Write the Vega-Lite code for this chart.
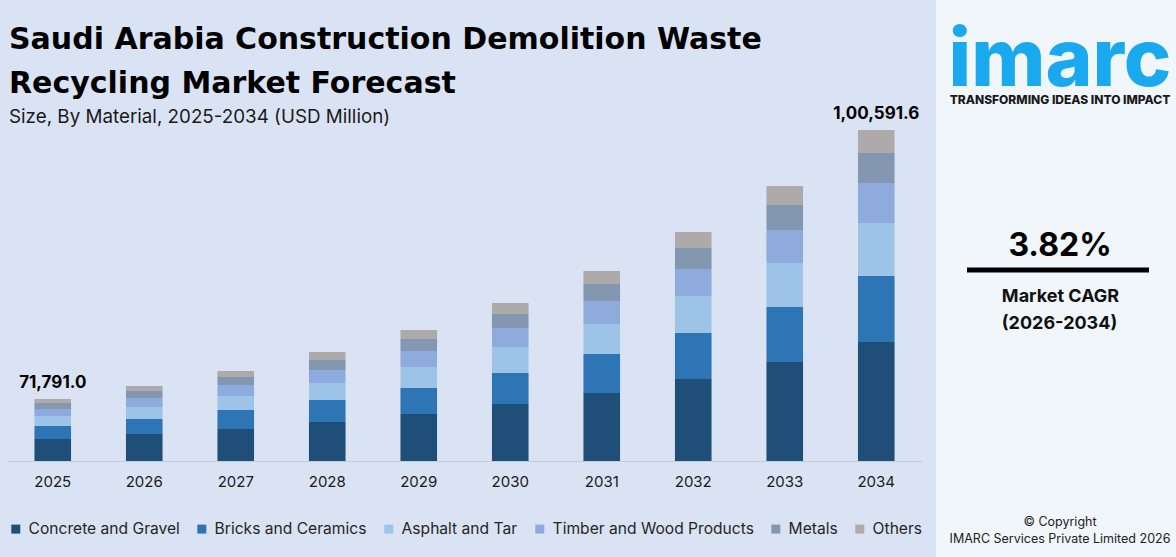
{
  "$schema": "https://vega.github.io/schema/vega-lite/v6.json",
  "background": "#dae3f3",
  "padding": {"left": 7, "top": 0, "right": 0, "bottom": 0},
  "spacing": 14,
  "config": {"view": {"stroke": null}, "font": "Inter"},
  "datasets": {
    "segments": [
      {"year": "2025", "material": "Concrete and Gravel", "value": 22},
      {"year": "2025", "material": "Bricks and Ceramics", "value": 13},
      {"year": "2025", "material": "Asphalt and Tar", "value": 10},
      {"year": "2025", "material": "Timber and Wood Products", "value": 7},
      {"year": "2025", "material": "Metals", "value": 6},
      {"year": "2025", "material": "Others", "value": 4},
      {"year": "2026", "material": "Concrete and Gravel", "value": 27},
      {"year": "2026", "material": "Bricks and Ceramics", "value": 15},
      {"year": "2026", "material": "Asphalt and Tar", "value": 12},
      {"year": "2026", "material": "Timber and Wood Products", "value": 9},
      {"year": "2026", "material": "Metals", "value": 7},
      {"year": "2026", "material": "Others", "value": 5},
      {"year": "2027", "material": "Concrete and Gravel", "value": 32},
      {"year": "2027", "material": "Bricks and Ceramics", "value": 19},
      {"year": "2027", "material": "Asphalt and Tar", "value": 14},
      {"year": "2027", "material": "Timber and Wood Products", "value": 11},
      {"year": "2027", "material": "Metals", "value": 8},
      {"year": "2027", "material": "Others", "value": 6},
      {"year": "2028", "material": "Concrete and Gravel", "value": 39},
      {"year": "2028", "material": "Bricks and Ceramics", "value": 22},
      {"year": "2028", "material": "Asphalt and Tar", "value": 17},
      {"year": "2028", "material": "Timber and Wood Products", "value": 13},
      {"year": "2028", "material": "Metals", "value": 10},
      {"year": "2028", "material": "Others", "value": 8},
      {"year": "2029", "material": "Concrete and Gravel", "value": 47},
      {"year": "2029", "material": "Bricks and Ceramics", "value": 26},
      {"year": "2029", "material": "Asphalt and Tar", "value": 21},
      {"year": "2029", "material": "Timber and Wood Products", "value": 16},
      {"year": "2029", "material": "Metals", "value": 12},
      {"year": "2029", "material": "Others", "value": 9},
      {"year": "2030", "material": "Concrete and Gravel", "value": 57},
      {"year": "2030", "material": "Bricks and Ceramics", "value": 31},
      {"year": "2030", "material": "Asphalt and Tar", "value": 26},
      {"year": "2030", "material": "Timber and Wood Products", "value": 19},
      {"year": "2030", "material": "Metals", "value": 14},
      {"year": "2030", "material": "Others", "value": 11},
      {"year": "2031", "material": "Concrete and Gravel", "value": 68},
      {"year": "2031", "material": "Bricks and Ceramics", "value": 39},
      {"year": "2031", "material": "Asphalt and Tar", "value": 30},
      {"year": "2031", "material": "Timber and Wood Products", "value": 23},
      {"year": "2031", "material": "Metals", "value": 17},
      {"year": "2031", "material": "Others", "value": 13},
      {"year": "2032", "material": "Concrete and Gravel", "value": 82},
      {"year": "2032", "material": "Bricks and Ceramics", "value": 46},
      {"year": "2032", "material": "Asphalt and Tar", "value": 37},
      {"year": "2032", "material": "Timber and Wood Products", "value": 27},
      {"year": "2032", "material": "Metals", "value": 21},
      {"year": "2032", "material": "Others", "value": 16},
      {"year": "2033", "material": "Concrete and Gravel", "value": 99},
      {"year": "2033", "material": "Bricks and Ceramics", "value": 55},
      {"year": "2033", "material": "Asphalt and Tar", "value": 44},
      {"year": "2033", "material": "Timber and Wood Products", "value": 33},
      {"year": "2033", "material": "Metals", "value": 25},
      {"year": "2033", "material": "Others", "value": 19},
      {"year": "2034", "material": "Concrete and Gravel", "value": 119},
      {"year": "2034", "material": "Bricks and Ceramics", "value": 66},
      {"year": "2034", "material": "Asphalt and Tar", "value": 53},
      {"year": "2034", "material": "Timber and Wood Products", "value": 40},
      {"year": "2034", "material": "Metals", "value": 30},
      {"year": "2034", "material": "Others", "value": 23}
    ],
    "totals": [
      {"year": "2025", "total": 62, "label": "71,791.0"},
      {"year": "2034", "total": 331, "label": "1,00,591.6"}
    ]
  },
  "hconcat": [
    {
      "width": 915,
      "height": 461,
      "title": {
        "text": ["Saudi Arabia Construction Demolition Waste", "Recycling Market Forecast"],
        "subtitle": "Size, By Material, 2025-2034 (USD Million)",
        "anchor": "start",
        "frame": "group",
        "orient": "top",
        "offset": -127,
        "dx": 2,
        "font": "DejaVu Sans",
        "fontSize": 30,
        "fontWeight": 700,
        "color": "#000000",
        "lineHeight": 44,
        "subtitleFont": "Inter",
        "subtitleFontSize": 18.8,
        "subtitleFontWeight": 400,
        "subtitleColor": "#1a1a1a",
        "subtitlePadding": 9
      },
      "layer": [
        {
          "data": {"name": "segments"},
          "transform": [
            {"calculate": "indexof(['Concrete and Gravel','Bricks and Ceramics','Asphalt and Tar','Timber and Wood Products','Metals','Others'], datum.material)", "as": "stackOrder"}
          ],
          "mark": {"type": "bar"},
          "encoding": {
            "x": {
              "field": "year", "type": "ordinal",
              "scale": {"paddingInner": 0.6, "paddingOuter": 0.3},
              "axis": {"title": null, "labelAngle": 0, "labelFont": "Inter", "labelFontSize": 15, "labelColor": "#1a1a1a", "labelPadding": 13, "ticks": false, "domainColor": "#c5ccd8", "grid": false}
            },
            "y": {
              "field": "value", "type": "quantitative", "stack": "zero",
              "scale": {"domain": [0, 461], "nice": false},
              "axis": null
            },
            "order": {"field": "stackOrder", "type": "quantitative", "sort": "ascending"},
            "color": {
              "field": "material", "type": "nominal",
              "sort": ["Concrete and Gravel", "Bricks and Ceramics", "Asphalt and Tar", "Timber and Wood Products", "Metals", "Others"],
              "scale": {
                "domain": ["Concrete and Gravel", "Bricks and Ceramics", "Asphalt and Tar", "Timber and Wood Products", "Metals", "Others"],
                "range": ["#1f4e79", "#2e75b6", "#9dc3e6", "#8faadc", "#8497b0", "#aeaaaa"]
              },
              "legend": {
                "title": null, "orient": "none", "direction": "horizontal", "columns": 6,
                "legendX": 1, "legendY": 521, "padding": 0,
                "symbolType": "square", "symbolSize": 81, "symbolStrokeWidth": 0,
                "labelFont": "Inter", "labelFontSize": 15.6, "labelColor": "#262626",
                "labelOffset": 5, "columnPadding": 14, "labelLimit": 400
              }
            }
          }
        },
        {
          "data": {"name": "totals"},
          "mark": {"type": "text", "font": "Inter", "fontWeight": 700, "fontSize": 17, "dy": -11, "baseline": "alphabetic", "color": "#000000"},
          "encoding": {
            "x": {"field": "year", "type": "ordinal"},
            "y": {"field": "total", "type": "quantitative"},
            "text": {"field": "label"}
          }
        }
      ]
    },
    {
      "width": 240,
      "height": 557,
      "view": {"fill": "#f1f6fa", "stroke": null},
      "layer": [
        {
          "data": {"values": [{"t": "imarc"}]},
          "mark": {"type": "text", "font": "Inter", "fontWeight": 800, "fontSize": 80, "color": "#1aa9ef", "align": "center", "baseline": "alphabetic"},
          "encoding": {
            "x": {"datum": 124, "type": "quantitative", "scale": {"domain": [0, 240], "nice": false, "zero": false}, "axis": null},
            "y": {"datum": 86, "type": "quantitative", "scale": {"domain": [0, 557], "reverse": true, "nice": false, "zero": false}, "axis": null},
            "text": {"field": "t"}
          }
        },
        {
          "data": {"values": [{"t": "TRANSFORMING IDEAS INTO IMPACT"}]},
          "mark": {"type": "text", "font": "Inter", "fontWeight": 800, "fontSize": 12, "color": "#1a1a1a", "align": "center", "baseline": "alphabetic"},
          "encoding": {
            "x": {"datum": 124, "type": "quantitative"},
            "y": {"datum": 104, "type": "quantitative"},
            "text": {"field": "t"}
          }
        },
        {
          "data": {"values": [{"t": "3.82%"}]},
          "mark": {"type": "text", "font": "Inter", "fontWeight": 700, "fontSize": 32, "color": "#000000", "align": "center", "baseline": "alphabetic"},
          "encoding": {
            "x": {"datum": 124, "type": "quantitative"},
            "y": {"datum": 256, "type": "quantitative"},
            "text": {"field": "t"}
          }
        },
        {
          "data": {"values": [{}]},
          "mark": {"type": "rule", "strokeWidth": 5, "color": "#000000"},
          "encoding": {
            "x": {"datum": 31, "type": "quantitative"},
            "x2": {"datum": 213},
            "y": {"datum": 270, "type": "quantitative"}
          }
        },
        {
          "data": {"values": [{"t": "Market CAGR"}]},
          "mark": {"type": "text", "font": "Inter", "fontWeight": 700, "fontSize": 18, "color": "#111111", "align": "center", "baseline": "alphabetic"},
          "encoding": {
            "x": {"datum": 124.5, "type": "quantitative"},
            "y": {"datum": 302, "type": "quantitative"},
            "text": {"field": "t"}
          }
        },
        {
          "data": {"values": [{"t": "(2026-2034)"}]},
          "mark": {"type": "text", "font": "Inter", "fontWeight": 700, "fontSize": 18, "color": "#111111", "align": "center", "baseline": "alphabetic"},
          "encoding": {
            "x": {"datum": 123.5, "type": "quantitative"},
            "y": {"datum": 329, "type": "quantitative"},
            "text": {"field": "t"}
          }
        },
        {
          "data": {"values": [{"t": "© Copyright"}]},
          "mark": {"type": "text", "font": "Inter", "fontWeight": 400, "fontSize": 12.5, "color": "#222222", "align": "center", "baseline": "alphabetic"},
          "encoding": {
            "x": {"datum": 124, "type": "quantitative"},
            "y": {"datum": 526, "type": "quantitative"},
            "text": {"field": "t"}
          }
        },
        {
          "data": {"values": [{"t": "IMARC Services Private Limited 2026"}]},
          "mark": {"type": "text", "font": "Inter", "fontWeight": 400, "fontSize": 12.5, "color": "#222222", "align": "center", "baseline": "alphabetic"},
          "encoding": {
            "x": {"datum": 124, "type": "quantitative"},
            "y": {"datum": 543, "type": "quantitative"},
            "text": {"field": "t"}
          }
        }
      ]
    }
  ]
}
